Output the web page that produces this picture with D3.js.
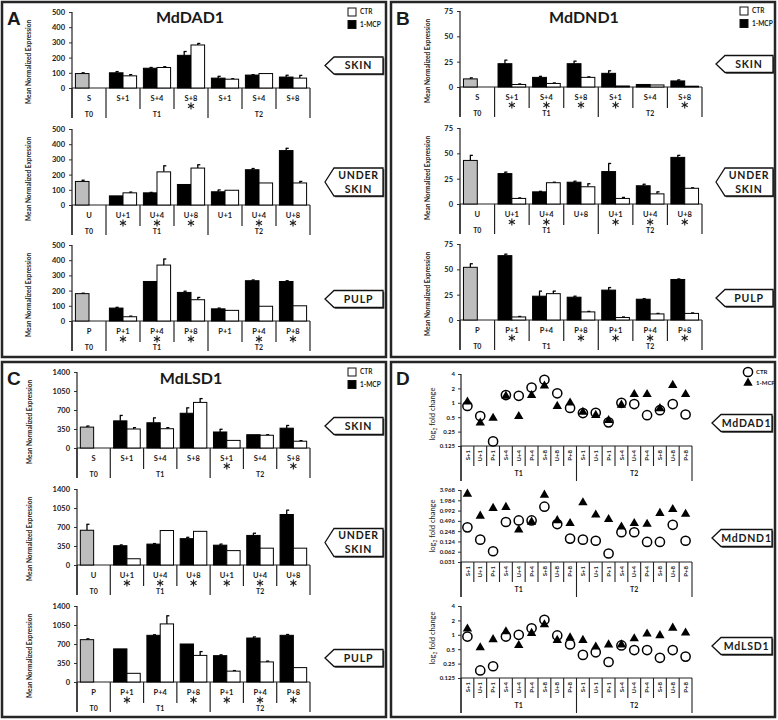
<!DOCTYPE html>
<html><head><meta charset="utf-8">
<script src="https://cdn.jsdelivr.net/npm/d3@7"></script>
<style>
body{margin:0;background:#fff}
svg{display:block}
text{font-family:Lato,"Open Sans",sans-serif;fill:#1a1a1a}
</style>
</head><body>
<script>
// ---------- shared labels ----------
const groupLabels = ["T0","T1","T2"];
const tissueNames = [["SKIN"],["UNDER","SKIN"],["PULP"]];
const tissueCodes = ["S","U","P"];
const dayCodes = ["+1","+4","+8"];
const legendLabels = ["CTR","1-MCP"];

// ---------- MdDAD1 (panel A) : [skin, under skin, pulp] x [T0, T1 +1,+4,+8, T2 +1,+4,+8]
const dad1Mcp    = [[95,100,130,215,65,85,72],[155,60,80,135,87,232,358],[180,85,260,188,80,265,260]];
const dad1McpErr = [[5,8,5,25,12,3,12],[8,0,3,0,12,8,15],[3,5,0,8,5,5,5]];
const dad1Ctr    = [[null,80,135,283,58,95,65],[null,80,218,243,97,145,145],[null,28,368,140,70,97,100]];
const dad1CtrErr = [[0,8,5,10,3,2,18],[0,5,40,22,2,2,10],[0,4,40,15,0,0,0]];
const dad1Sig    = [[0,0,0,1,0,0,0],[0,1,1,1,0,1,1],[0,1,1,1,0,1,1]];
const dad1Ticks  = [0,100,200,300,400,500];

// ---------- MdDND1 (panel B)
const dnd1Mcp    = [[8,23,9.5,23,13.5,2.5,6],[43,30,12,21.5,32,18,46],[52,63.5,23.5,22.5,29.5,20.5,40]];
const dnd1McpErr = [[1,3.5,1,2.5,2.5,0.3,1],[5,1.5,0.5,1,8,1.5,2],[3.5,1.5,5,1,2.5,0.5,0.5]];
const dnd1Ctr    = [[null,2.5,3.5,9.5,1,2,0.8],[null,5.5,21,17,5.5,10,15.5],[null,3,26,8,2.5,6,6.5]];
const dnd1CtrErr = [[0,0.5,0.5,0.5,0.2,0.3,0.2],[0,0.5,0.5,3,1,2,0.5],[0,0.5,2.5,0.5,0.5,0.5,0.5]];
const dnd1Sig    = [[0,1,1,1,1,0,1],[0,1,1,0,1,1,1],[0,1,0,1,1,1,1]];
const dnd1Ticks  = [0,25,50,75];

// ---------- MdLSD1 (panel C)
const lsd1Mcp    = [[385,500,465,640,295,245,365],[640,355,385,485,365,545,930],[780,610,860,700,485,810,860]];
const lsd1McpErr = [[20,100,90,100,50,5,50],[110,15,10,25,20,40,80],[15,5,10,5,15,20,15]];
const lsd1Ctr    = [[null,350,355,840,140,235,125],[null,115,635,620,265,310,310],[null,160,1070,490,200,370,265]];
const lsd1CtrErr = [[0,25,20,70,5,10,10],[0,5,5,5,5,5,5],[0,5,150,70,10,15,5]];
const lsd1Sig    = [[0,0,0,0,1,0,1],[0,1,1,1,1,1,1],[0,1,0,1,1,1,1]];
const lsd1Ticks  = [0,350,700,1050,1400];

// ---------- panel D : log2 fold change, T1 then T2
const foldCategories = ["S+1","U+1","P+1","S+4","U+4","P+4","S+8","U+8","P+8"];
const foldGroups = ["T1","T2"];
const foldGenes = ["MdDAD1","MdDND1","MdLSD1"];
const dad1FoldCtr = [0.86,0.53,0.156,1.45,1.4,2.08,3.02,1.58,0.78, 0.61,0.62,0.39,1.0,0.94,0.55,0.7,0.94,0.57];
const dad1FoldMcp = [1.05,0.38,0.48,1.38,0.52,1.43,2.26,0.85,1.0, 0.64,0.55,0.43,0.9,1.5,1.5,0.76,2.33,1.5];
const dnd1FoldCtr = [0.32,0.14,0.064,0.46,0.51,0.51,1.29,0.40,0.15, 0.14,0.13,0.055,0.23,0.23,0.12,0.12,0.38,0.13];
const dnd1FoldMcp = [3.03,0.69,1.16,1.24,0.27,0.46,2.83,0.51,0.42, 1.69,0.74,0.55,0.33,0.42,0.40,0.83,1.08,0.78];
const lsd1FoldCtr = [0.92,0.18,0.22,0.92,1.0,1.37,2.06,0.97,0.63, 0.38,0.43,0.27,0.60,0.48,0.48,0.33,0.48,0.35];
const lsd1FoldMcp = [1.33,0.54,0.80,1.17,0.60,1.08,1.63,0.77,0.87, 0.77,0.56,0.62,0.62,0.83,1.05,0.97,1.39,1.1];
const foldTicksA = [0.125,0.25,0.5,1,2,4];
const foldTicksB = [0.031,0.062,0.124,0.248,0.496,0.992,1.984,3.968];

// ================= drawing =================
const svg = d3.select("body").append("svg").attr("width",778).attr("height",720);
svg.append("rect").attr("width",778).attr("height",720).attr("fill","#fff");

const frames = [{x:2,y:2,l:"A"},{x:391,y:2,l:"B"},{x:2,y:362,l:"C"},{x:391,y:362,l:"D"}];
frames.forEach(f=>{
  svg.append("rect").attr("x",f.x).attr("y",f.y).attr("width",384).attr("height",355)
    .attr("fill","none").attr("stroke","#262626").attr("stroke-width",2.5);
  svg.append("text").attr("x",f.x+5).attr("y",f.y+23).text(f.l)
    .style("font-family","'Liberation Sans',Arial,sans-serif").style("font-weight",700).style("font-size","19px").attr("fill","#000");
});

const asterisk = d3.symbol().type(d3.symbolAsterisk).size(34);

function arrowBox(x1,x2,cy,h,lines){
  const pts=[[x1,cy],[x1+9,cy-h/2],[x2,cy-h/2],[x2,cy+h/2],[x1+9,cy+h/2]];
  const p = d3.line()(pts)+"Z";
  svg.append("path").attr("d",p).attr("transform","translate(1.3,1.3)").attr("fill","#444");
  svg.append("path").attr("d",p).attr("fill","#fff").attr("stroke","#111").attr("stroke-width",1.3);
  const cx=(x1+9+x2)/2;
  lines.forEach((t,k)=>{
    svg.append("text").attr("x",cx).attr("y",cy+(k-(lines.length-1)/2)*14).attr("dy","0.36em")
      .attr("text-anchor","middle").style("font-weight",700).style("font-size","10.5px").style("letter-spacing","0.8px").text(t);
  });
}

function styleTicks(ag,fs){
  ag.select(".domain").remove();
  ag.selectAll(".tick line").attr("stroke","#333");
  ag.selectAll(".tick text").style("font-size",fs).style("font-weight",700).attr("fill","#1a1a1a")
    .style("font-family","Lato,sans-serif");
}

function legendSquares(x,y){
  svg.append("rect").attr("x",x).attr("y",y).attr("width",8).attr("height",8).attr("fill","#fff").attr("stroke","#111");
  svg.append("rect").attr("x",x).attr("y",y+12.5).attr("width",8).attr("height",8).attr("fill","#000").attr("stroke","#111");
  legendLabels.forEach((t,k)=>svg.append("text").attr("x",x+12).attr("y",y+4+k*12.5).attr("dy","0.35em")
    .style("font-size","6.5px").style("font-weight",700).text(t));
}

function drawBarPanel(cfg, mcp, mcpErr, ctr, ctrErr, sig, ticks){
  svg.append("text").attr("x",cfg.titleX).attr("y",cfg.titleY).attr("text-anchor","middle")
    .style("font-size","16px").style("font-weight",700).text(cfg.title);
  legendSquares(cfg.legX,cfg.legY);
  const groupSizes=[1,3,3];
  const bounds=[0]; groupSizes.forEach(s=>bounds.push(bounds[bounds.length-1]+s));
  tissueNames.forEach((tn,ti)=>{
    const top=cfg.tops[ti], bottom=top+cfg.h;
    const y=d3.scaleLinear().domain([0,ticks[ticks.length-1]]).range([bottom,top]);
    const x=d3.scaleBand().domain(d3.range(7)).range([cfg.axisX,cfg.right]);
    const xs=d3.scaleBand().domain(["mcp","ctr"]).range([0,x.bandwidth()]).paddingOuter(0.25);
    const g=svg.append("g");
    const ag=g.append("g").attr("transform",`translate(${cfg.axisX},0)`)
      .call(d3.axisLeft(y).tickValues(ticks).tickFormat(d3.format("d")).tickSize(3).tickPadding(4));
    styleTicks(ag,"7.5px");
    g.append("text").attr("transform",`translate(${cfg.yTitleX},${top+50}) rotate(-90)`)
      .attr("text-anchor","middle").style("font-size","6.5px").style("font-weight",700).attr("fill","#333")
      .text("Mean Normalized Expression");
    g.append("line").attr("x1",cfg.axisX).attr("x2",cfg.axisX).attr("y1",top).attr("y2",bottom+30).attr("stroke","#222").attr("stroke-width",1.2);
    g.append("line").attr("x1",cfg.axisX).attr("x2",cfg.right).attr("y1",bottom).attr("y2",bottom).attr("stroke","#222").attr("stroke-width",1.2);
    d3.range(8).forEach(i=>{
      const xx=cfg.axisX+i*x.step();
      const full=bounds.includes(i);
      g.append("line").attr("x1",xx).attr("x2",xx).attr("y1",bottom).attr("y2",bottom+(full?30:21)).attr("stroke","#222").attr("stroke-width",1.2);
    });
    d3.range(7).forEach(i=>{
      const bx=x(i);
      const drawBar=(key,v,e,fill)=>{
        if(v==null) return;
        const x0=bx+xs(key), w=xs.bandwidth();
        if(e>0.4*(ticks[ticks.length-1]/100)){
          const cxm=x0+w/2;
          g.append("line").attr("x1",cxm).attr("x2",cxm).attr("y1",y(v)).attr("y2",y(v+e)).attr("stroke","#000").attr("stroke-width",1.3);
          g.append("line").attr("x1",cxm-0.5).attr("x2",cxm+2.5).attr("y1",y(v+e)).attr("y2",y(v+e)).attr("stroke","#000").attr("stroke-width",1.3);
        }
        g.append("rect").attr("x",x0).attr("y",y(v)).attr("width",w).attr("height",bottom-y(v))
          .attr("fill",fill).attr("stroke","#000").attr("stroke-width",1);
      };
      drawBar("mcp",mcp[ti][i],mcpErr[ti][i], i===0?"#bdbdbd":"#000");
      drawBar("ctr",ctr[ti][i],ctrErr[ti][i],"#fff");
      const cx=bx+x.bandwidth()/2;
      const lab = i===0 ? tissueCodes[ti] : tissueCodes[ti]+dayCodes[(i-1)%3];
      g.append("text").attr("x",cx).attr("y",bottom+10).attr("dy","0.35em").attr("text-anchor","middle")
        .style("font-size","7.5px").style("font-weight",700).text(lab);
      if(sig[ti][i]) g.append("path").attr("d",asterisk).attr("transform",`translate(${cx},${bottom+18})`)
        .attr("fill","none").attr("stroke","#222").attr("stroke-width",1.1);
    });
    groupLabels.forEach((gl,k)=>{
      const cx=cfg.axisX+(bounds[k]+bounds[k+1])/2*x.step();
      g.append("text").attr("x",cx).attr("y",bottom+26.5).attr("dy","0.35em").attr("text-anchor","middle")
        .style("font-size","7px").style("font-weight",700).text(gl);
    });
    arrowBox(cfg.boxX1,cfg.boxX2,cfg.boxC[ti],tn.length>1?28:17,tn);
  });
}

drawBarPanel({title:"MdDAD1",titleX:190,titleY:23,axisX:72,right:310,tops:[12,129,245],h:76,yTitleX:31,
  legX:348,legY:8,boxX1:325,boxX2:383,boxC:[65.5,182,299]}, dad1Mcp,dad1McpErr,dad1Ctr,dad1CtrErr,dad1Sig,dad1Ticks);
drawBarPanel({title:"MdDND1",titleX:584,titleY:23,axisX:460,right:702,tops:[11,128,244],h:76,yTitleX:430,
  legX:740,legY:7,boxX1:716,boxX2:773,boxC:[64,182,298]}, dnd1Mcp,dnd1McpErr,dnd1Ctr,dnd1CtrErr,dnd1Sig,dnd1Ticks);
drawBarPanel({title:"MdLSD1",titleX:191,titleY:384,axisX:77,right:310,tops:[372,489,606],h:76,yTitleX:32,
  legX:348,legY:368,boxX1:325,boxX2:383,boxC:[426,542.5,658]}, lsd1Mcp,lsd1McpErr,lsd1Ctr,lsd1CtrErr,lsd1Sig,lsd1Ticks);

// ---------- panel D ----------
(function(){
  const cfg={axisX:461,right:692,tops:[374,490,606],h:72,boxC:[423,538,646],yTitleY:[414,526,638]};
  const ctrs=[dad1FoldCtr,dnd1FoldCtr,lsd1FoldCtr], mcps=[dad1FoldMcp,dnd1FoldMcp,lsd1FoldMcp];
  const tickSets=[foldTicksA,foldTicksB,foldTicksA];
  const allCats=[]; foldGroups.forEach(gl=>foldCategories.forEach(c=>allCats.push(c)));
  const tri=d3.symbol().type(d3.symbolTriangle).size(38);
  foldGenes.forEach((gn,gi)=>{
    const top=cfg.tops[gi], bottom=top+cfg.h, ticks=tickSets[gi];
    const y=d3.scaleLog().base(2).domain([ticks[0],ticks[ticks.length-1]]).range([bottom,top]);
    const x=d3.scaleBand().domain(d3.range(allCats.length)).range([cfg.axisX,cfg.right]);
    const g=svg.append("g");
    const ag=g.append("g").attr("transform",`translate(${cfg.axisX},0)`)
      .call(d3.axisLeft(y).tickValues(ticks).tickFormat(d=>String(d)).tickSize(3).tickPadding(3));
    styleTicks(ag,"6px");
    const yt=g.append("text").attr("transform",`translate(432,${cfg.yTitleY[gi]}) rotate(-90)`)
      .attr("text-anchor","middle").attr("dy","0.35em").style("font-size","7.5px").attr("fill","#333");
    yt.append("tspan").text("log");
    yt.append("tspan").attr("dy","2").style("font-size","5px").text("2");
    yt.append("tspan").attr("dy","-2").text(" fold change");
    g.append("line").attr("x1",cfg.axisX).attr("x2",cfg.axisX).attr("y1",top).attr("y2",bottom+35).attr("stroke","#222").attr("stroke-width",1.2);
    g.append("line").attr("x1",cfg.axisX).attr("x2",cfg.right).attr("y1",bottom).attr("y2",bottom).attr("stroke","#222").attr("stroke-width",1.2);
    const n=foldCategories.length;
    d3.range(allCats.length+1).forEach(i=>{
      const xx=cfg.axisX+i*x.step(), full=(i%n===0);
      g.append("line").attr("x1",xx).attr("x2",xx).attr("y1",bottom).attr("y2",bottom+(full?35:20)).attr("stroke","#222").attr("stroke-width",1.1);
    });
    allCats.forEach((c,i)=>{
      const cx=x(i)+x.bandwidth()/2;
      g.append("text").attr("transform",`translate(${cx},${bottom+4}) rotate(-90)`).attr("text-anchor","end").attr("dy","0.35em")
        .style("font-size","6px").style("font-weight",700).text(c);
    });
    foldGroups.forEach((gl,k)=>{
      const cx=cfg.axisX+(k*n+n/2)*x.step();
      g.append("text").attr("x",cx).attr("y",bottom+28).attr("dy","0.35em").attr("text-anchor","middle")
        .style("font-size","7px").style("font-weight",700).text(gl);
    });
    ctrs[gi].forEach((v,i)=>{
      g.append("circle").attr("cx",x(i)+x.bandwidth()/2).attr("cy",y(v)).attr("r",4.6)
        .attr("fill","#fff").attr("stroke","#000").attr("stroke-width",1.5);
    });
    mcps[gi].forEach((v,i)=>{
      g.append("path").attr("d",tri).attr("transform",`translate(${x(i)+x.bandwidth()/2},${y(v)})`).attr("fill","#000");
    });
    arrowBox(712,772,cfg.boxC[gi],17,[gn]);
  });
  svg.append("circle").attr("cx",748).attr("cy",372).attr("r",4.6).attr("fill","#fff").attr("stroke","#000").attr("stroke-width",1.5);
  svg.append("path").attr("d",d3.symbol().type(d3.symbolTriangle).size(38)).attr("transform","translate(748,383)").attr("fill","#000");
  legendLabels.forEach((t,k)=>svg.append("text").attr("x",756).attr("y",372+k*11).attr("dy","0.35em")
    .style("font-size","6px").style("font-weight",700).text(t));
})();
</script>
</body></html>
